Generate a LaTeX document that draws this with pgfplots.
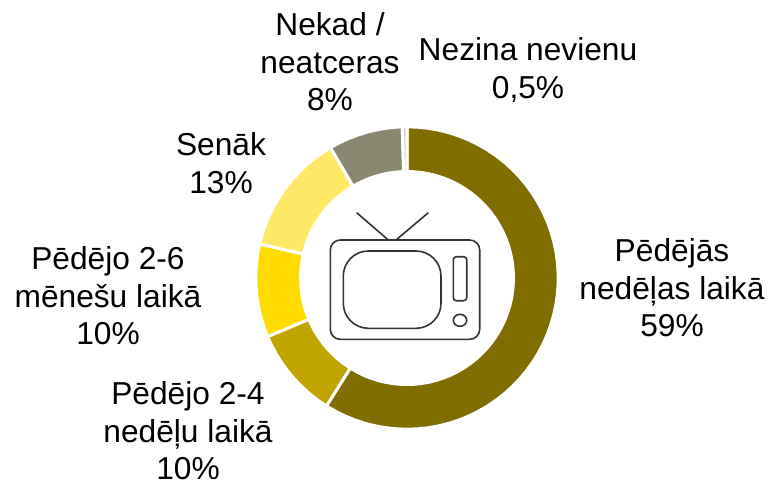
\documentclass[border=0pt]{standalone}
\usepackage{pgfplots}
\pgfplotsset{compat=1.18}
\usepgfplotslibrary{polar}
\usepackage{fontspec}
\setmainfont{Liberation Sans}
\definecolor{s1}{HTML}{806D00}
\definecolor{s2}{HTML}{BFA400}
\definecolor{s3}{HTML}{FFDB00}
\definecolor{s4}{HTML}{FFE866}
\definecolor{s5}{HTML}{8A8870}
\definecolor{s6}{HTML}{D9D8C4}
\definecolor{tv}{HTML}{333333}
\begin{document}
\begin{tikzpicture}[x=1pt,y=-1pt]
\useasboundingbox (0,0) rectangle (770,483);
\begin{polaraxis}[
  at={(407pt,-278pt)}, anchor=center,
  scale only axis, width=400pt, height=400pt,
  xmin=0, xmax=360, ymin=0, ymax=200,
  hide axis, clip=false,
]
% Pedejas nedelas laika 59%
\addplot[fill=s1, draw=white, line width=3pt, line join=miter] coordinates {
(90,151.2)(86,151.2)(82,151.2)(78,151.2)(74,151.2)(70,151.2)(66,151.2)(62,151.2)(58,151.2)(54,151.2)
(50,151.2)(46,151.2)(42,151.2)(38,151.2)(34,151.2)(30,151.2)(26,151.2)(22,151.2)(18,151.2)(14,151.2)
(10,151.2)(6,151.2)(2,151.2)(-2,151.2)(-6,151.2)(-10,151.2)(-14,151.2)(-18,151.2)(-22,151.2)(-26,151.2)
(-30,151.2)(-34,151.2)(-38,151.2)(-42,151.2)(-46,151.2)(-50,151.2)(-54,151.2)(-58,151.2)(-62,151.2)(-66,151.2)
(-70,151.2)(-74,151.2)(-78,151.2)(-82,151.2)(-86,151.2)(-90,151.2)(-94,151.2)(-98,151.2)(-102,151.2)(-106,151.2)
(-110,151.2)(-114,151.2)(-118,151.2)(-122.2,151.2)
(-122.2,106.5)(-118,106.5)(-114,106.5)(-110,106.5)
(-106,106.5)(-102,106.5)(-98,106.5)(-94,106.5)(-90,106.5)(-86,106.5)(-82,106.5)(-78,106.5)(-74,106.5)(-70,106.5)
(-66,106.5)(-62,106.5)(-58,106.5)(-54,106.5)(-50,106.5)(-46,106.5)(-42,106.5)(-38,106.5)(-34,106.5)(-30,106.5)
(-26,106.5)(-22,106.5)(-18,106.5)(-14,106.5)(-10,106.5)(-6,106.5)(-2,106.5)(2,106.5)(6,106.5)(10,106.5)
(14,106.5)(18,106.5)(22,106.5)(26,106.5)(30,106.5)(34,106.5)(38,106.5)(42,106.5)(46,106.5)(50,106.5)
(54,106.5)(58,106.5)(62,106.5)(66,106.5)(70,106.5)(74,106.5)(78,106.5)(82,106.5)(86,106.5)(90,106.5)
} --cycle;
% Pedejo 2-4 nedelu laika 10%
\addplot[fill=s2, draw=white, line width=3pt, line join=miter] coordinates {
(-122.2,151.2)(-126,151.2)(-130,151.2)(-134,151.2)(-138,151.2)(-142,151.2)(-146,151.2)(-150,151.2)(-154,151.2)(-157.2,151.2)
(-157.2,106.5)(-154,106.5)(-150,106.5)(-146,106.5)(-142,106.5)(-138,106.5)(-134,106.5)(-130,106.5)(-126,106.5)(-122.2,106.5)
} --cycle;
% Pedejo 2-6 menesu laika 10%
\addplot[fill=s3, draw=white, line width=3pt, line join=miter] coordinates {
(-157.2,151.2)(-161,151.2)(-165,151.2)(-169,151.2)(-173,151.2)(-177,151.2)(-181,151.2)(-185,151.2)(-189,151.2)(-193,151.2)
(-193,106.5)(-189,106.5)(-185,106.5)(-181,106.5)(-177,106.5)(-173,106.5)(-169,106.5)(-165,106.5)(-161,106.5)(-157.2,106.5)
} --cycle;
% Senak 13%
\addplot[fill=s4, draw=white, line width=3pt, line join=miter] coordinates {
(-193,151.2)(-197,151.2)(-201,151.2)(-205,151.2)(-209,151.2)(-213,151.2)(-217,151.2)(-221,151.2)(-225,151.2)(-229,151.2)(-233,151.2)(-237,151.2)(-239.6,151.2)
(-239.6,106.5)(-237,106.5)(-233,106.5)(-229,106.5)(-225,106.5)(-221,106.5)(-217,106.5)(-213,106.5)(-209,106.5)(-205,106.5)(-201,106.5)(-197,106.5)(-193,106.5)
} --cycle;
% Nekad / neatceras 8%
\addplot[fill=s5, draw=white, line width=3pt, line join=miter] coordinates {
(-239.6,151.2)(-243,151.2)(-247,151.2)(-251,151.2)(-255,151.2)(-259,151.2)(-263,151.2)(-267,151.2)(-268.2,151.2)
(-268.2,106.5)(-267,106.5)(-263,106.5)(-259,106.5)(-255,106.5)(-251,106.5)(-247,106.5)(-243,106.5)(-239.6,106.5)
} --cycle;
% Nezina nevienu 0,5%
\addplot[fill=s6, draw=white, line width=3pt, line join=miter] coordinates {
(-268.2,151.2)(-270,151.2)(-270,106.5)(-268.2,106.5)
} --cycle;
\end{polaraxis}
% television icon
\begin{scope}[draw=tv, line width=1.6pt]
\draw[rounded corners=10pt] (330.3,240) rectangle (479.7,339.3);
\draw[rounded corners=25pt] (343.3,251) rectangle (441,328.3);
\draw[rounded corners=3pt] (453.3,256.7) rectangle (466.7,300.7);
\draw (460,320.3) ellipse [x radius=6.7, y radius=6];
\draw (356.7,212.7) -- (388.3,240);
\draw (428.3,212.7) -- (396,240);
\end{scope}
% labels
\tikzset{lab/.style={align=center, inner sep=0pt, font=\fontsize{31.7}{37.5}\selectfont}}
\node[lab] at (330,62) {Nekad /\\neatceras\\8\%};
\node[lab] at (528,70) {Nezina nevienu\\0,5\%};
\node[lab] at (221,163) {Senāk\\13\%};
\node[lab] at (108,296) {Pēdējo 2-6\\mēnešu laikā\\10\%};
\node[lab] at (188,431) {Pēdējo 2-4\\nedēļu laikā\\10\%};
\node[lab] at (672,288) {Pēdējās\\nedēļas laikā\\59\%};
\end{tikzpicture}
\end{document}
